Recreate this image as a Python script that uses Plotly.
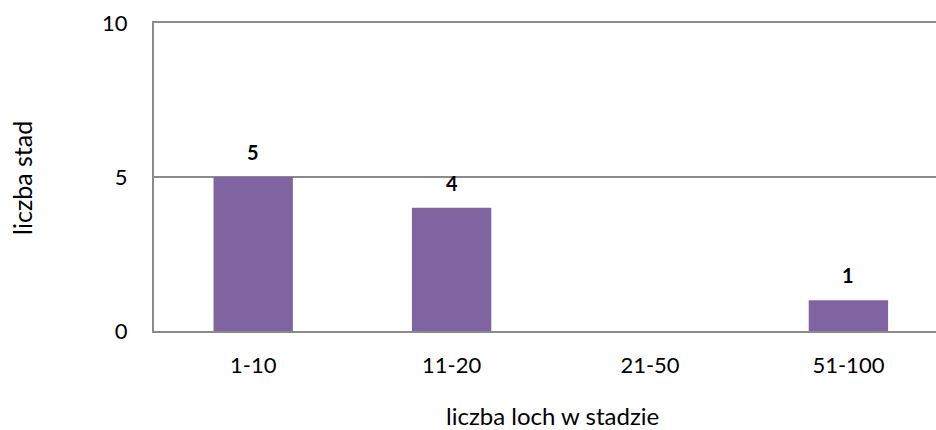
import plotly.graph_objects as go

categories = ["1-10", "11-20", "21-50", "51-100"]
values = [5, 4, 0, 1]
y_ticks = [0, 5, 10]
x_title = "liczba loch w stadzie"
y_title = "liczba stad"

BAR = "#8064A2"
GRID = "#8a8a8a"
FONT = "Lato"

fig = go.Figure()
fig.add_trace(go.Bar(
    x=categories, y=values, width=0.4,
    marker=dict(color=BAR, line=dict(width=0)),
    hoverinfo="skip",
))

annotations = []
for c, v in zip(categories, values):
    if v:
        annotations.append(dict(
            x=c, y=v, xref="x", yref="y", text=f"<b>{v}</b>", showarrow=False,
            yanchor="middle", yshift=25,
            font=dict(family=FONT, size=20, color="#000000"),
        ))
annotations.append(dict(
    x=0.509, y=-0.273, xref="paper", yref="paper", text=x_title, showarrow=False,
    xanchor="center", yanchor="middle", font=dict(family=FONT, size=24, color="#000000"),
))
annotations.append(dict(
    x=-0.1688, y=0.497, xref="paper", yref="paper", text=y_title, showarrow=False,
    xanchor="center", yanchor="middle", textangle=-90,
    font=dict(family=FONT, size=25, color="#000000"),
))

fig.update_layout(
    width=936, height=430,
    margin=dict(l=154, r=0, t=23, b=99, autoexpand=False),
    paper_bgcolor="white", plot_bgcolor="white",
    showlegend=False,
    font=dict(family=FONT, size=22, color="#000000"),
    annotations=annotations,
)
fig.update_xaxes(
    range=[-0.5, 3.4415], showgrid=False, showline=True, mirror=True,
    linecolor=GRID, linewidth=2,
    ticks="", ticklabelstandoff=14, automargin=False, fixedrange=True,
)
fig.update_yaxes(
    range=[0, 10], tickvals=y_ticks, showgrid=True, gridcolor=GRID, gridwidth=2,
    zeroline=False, showline=True, linecolor=GRID, linewidth=2,
    ticks="", ticklabelstandoff=20, automargin=False, fixedrange=True,
)

fig.write_html(
    "out.html",
    config={"displayModeBar": False},
    post_script="document.body.style.margin='0';document.body.style.overflow='hidden';",
)
